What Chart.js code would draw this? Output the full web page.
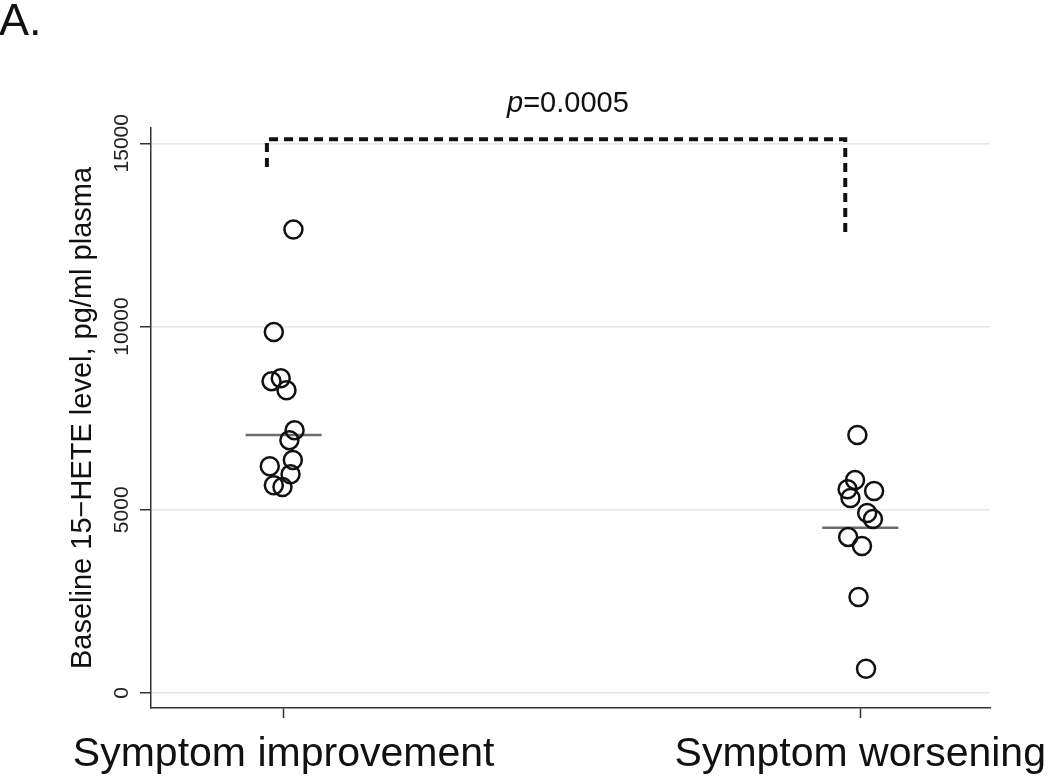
<!DOCTYPE html>
<html>
<head>
<meta charset="utf-8">
<script src="https://cdn.jsdelivr.net/npm/chart.js@4.4.1/dist/chart.umd.min.js"></script>
<style>
  html, body { margin: 0; padding: 0; background: #fff; }
  #wrap { width: 1050px; height: 780px; position: relative; }
</style>
</head>
<body>
<div id="wrap"><canvas id="chart"></canvas></div>
<script>
// Baseline 15-HETE dot plot

// Data
const categories = ['Symptom improvement', 'Symptom worsening'];
const yTicks = [0, 5000, 10000, 15000];

// group 1: x is the jittered position around 1
const improveX = [1.017, 0.983, 0.979, 0.995, 1.005, 1.019, 1.010, 1.016, 0.976, 1.012, 0.983, 0.998];
const improveY = [12650, 9850, 8510, 8590, 8260, 7170, 6900, 6360, 6190, 5970, 5670, 5620];

// group 2: jittered around 2
const worsenX = [1.995, 1.991, 1.978, 1.983, 2.024, 2.012, 2.022, 1.979, 2.003, 1.997, 2.010];
const worsenY = [7040, 5810, 5560, 5320, 5510, 4910, 4750, 4260, 4010, 2620, 660];

const medians = [7040, 4510];
const medianHalfWidth = 0.066;

// significance bracket
const bracketX = [0.971, 0.971, 1.974, 1.974];
const bracketY = [14350, 15110, 15110, 12550];
const pLabel = '0.0005';
const pLabelX = 1.493;

const toPts = (xs, ys) => xs.map((x, i) => ({ x: x, y: ys[i] }));

const FONT = '"Liberation Sans", Arial, sans-serif';

const circleStyle = {
    type: 'scatter',
    pointStyle: 'circle',
    pointRadius: 9,
    pointHoverRadius: 9,
    borderWidth: 2.5,
    borderColor: '#111',
    backgroundColor: 'rgba(255,255,255,0)'
};

function medianLine(i) {
    const c = i + 1;
    return {
        type: 'line',
        data: [{ x: c - medianHalfWidth, y: medians[i] }, { x: c + medianHalfWidth, y: medians[i] }],
        borderColor: '#6b6b6b',
        borderWidth: 2.5,
        pointRadius: 0,
        showLine: true
    };
}

// extra text: panel letter, p value, rotated y tick labels
const annotate = {
    id: 'annotate',
    afterDraw(chart) {
        const ctx = chart.ctx;
        const xs = chart.scales.x, ys = chart.scales.y;
        ctx.save();
        ctx.fillStyle = '#111';
        ctx.font = '45px ' + FONT;
        ctx.textAlign = 'left';
        ctx.textBaseline = 'alphabetic';
        ctx.fillText('A.', -1, 35);

        // p value over the bracket
        const cx = xs.getPixelForValue(pLabelX);
        const cy = ys.getPixelForValue(bracketY[1]) - 35;
        ctx.font = 'italic 29px ' + FONT;
        const w1 = ctx.measureText('p').width;
        ctx.font = '29px ' + FONT;
        const w2 = ctx.measureText('=' + pLabel).width;
        const x0 = cx - (w1 + w2) / 2;
        ctx.textBaseline = 'middle';
        ctx.font = 'italic 29px ' + FONT;
        ctx.fillText('p', x0, cy);
        ctx.font = '29px ' + FONT;
        ctx.fillText('=' + pLabel, x0 + w1, cy);

        // y tick labels, rotated
        ctx.font = '21px ' + FONT;
        ctx.fillStyle = '#222';
        ctx.textAlign = 'center';
        ctx.textBaseline = 'middle';
        ys.ticks.forEach(t => {
            const py = ys.getPixelForValue(t.value);
            ctx.save();
            ctx.translate(122, py);
            ctx.rotate(-Math.PI / 2);
            ctx.fillText(String(t.value), 0, 0);
            ctx.restore();
        });
        ctx.restore();
    }
};

new Chart(document.getElementById('chart'), {
    data: {
        datasets: [
            Object.assign({ data: toPts(improveX, improveY) }, circleStyle),
            Object.assign({ data: toPts(worsenX, worsenY) }, circleStyle),
            medianLine(0),
            medianLine(1),
            {
                type: 'line',
                data: toPts(bracketX, bracketY),
                borderColor: '#111',
                borderWidth: 4,
                borderDash: [9, 6],
                borderCapStyle: 'butt',
                pointRadius: 0,
                showLine: true,
                tension: 0
            }
        ]
    },
    options: {
        responsive: true,
        maintainAspectRatio: false,
        animation: false,
        layout: { padding: { left: 0, right: 60, top: 128, bottom: 0 } },
        plugins: {
            legend: { display: false },
            tooltip: { enabled: false }
        },
        scales: {
            x: {
                type: 'linear',
                min: 0.77,
                max: 2.225,
                afterBuildTicks: s => { s.ticks = [{ value: 1 }, { value: 2 }]; },
                afterFit: s => { s.height = 72; s.paddingLeft = 0; s.paddingRight = 0; },
                ticks: {
                    callback: v => categories[v - 1],
                    color: '#111',
                    padding: 12,
                    maxRotation: 0,
                    font: { size: 41, family: FONT }
                },
                grid: { drawOnChartArea: false, drawTicks: true, tickLength: 10, tickColor: '#333', tickWidth: 1.5 },
                border: { display: true, color: '#333', width: 1.5 }
            },
            y: {
                type: 'linear',
                min: -409,
                max: 15417,
                afterBuildTicks: s => { s.ticks = yTicks.map(v => ({ value: v })); },
                afterFit: s => { s.width = 151; },
                ticks: { display: false },
                title: {
                    display: true,
                    text: 'Baseline 15\u2212HETE level, pg/ml plasma',
                    color: '#111',
                    padding: { top: 66, bottom: 0 },
                    font: { size: 29, family: FONT }
                },
                grid: { color: '#e6e6e6', lineWidth: 1.5, drawTicks: true, tickLength: 11, tickColor: '#333', tickWidth: 1.5 },
                border: { display: true, color: '#333', width: 1.5 }
            }
        }
    },
    plugins: [annotate]
});
</script>
</body>
</html>
